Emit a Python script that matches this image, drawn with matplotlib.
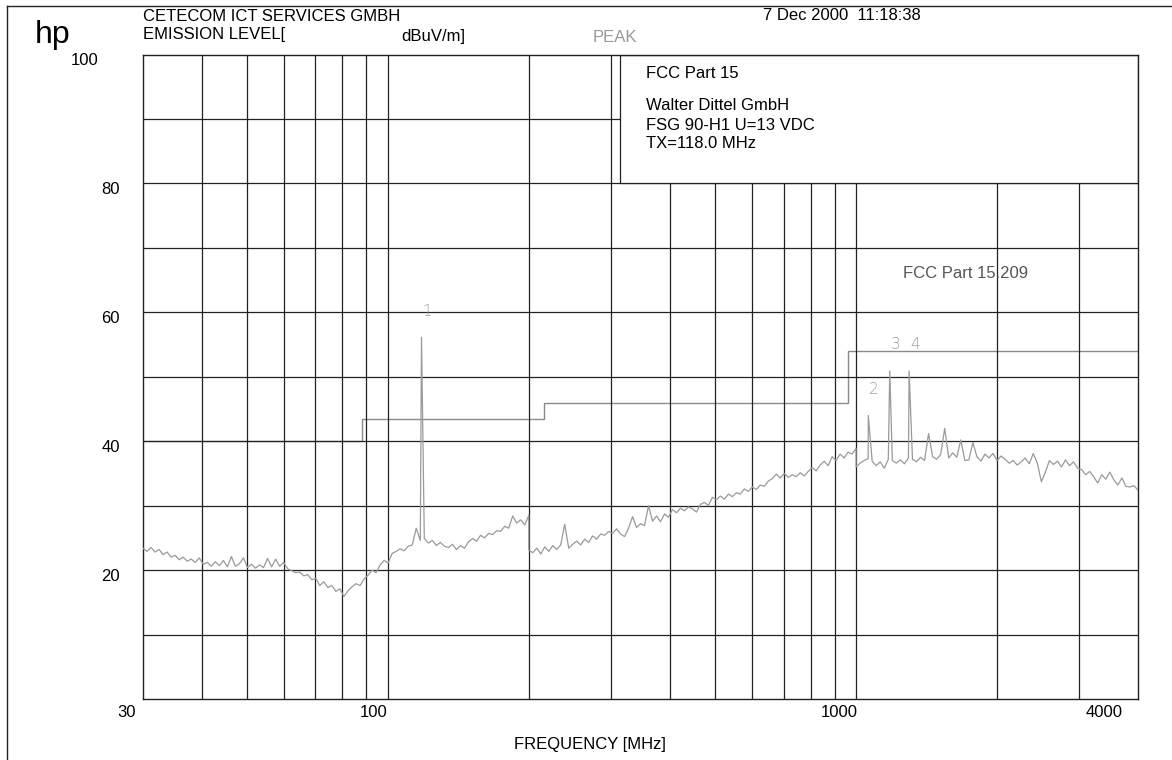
import numpy as np
import matplotlib
matplotlib.use("Agg")
import matplotlib.pyplot as plt
from matplotlib.patches import Rectangle

plt.rcParams['font.family'] = ['Liberation Sans', 'DejaVu Sans']

# %%
# Sweep 1: 30 - 200 MHz (dBuV/m)
level_30_200 = [
    23.4, 22.9, 23.5, 22.8, 23.2, 22.4, 22.8, 22.0, 22.3, 21.6,
    22.0, 21.4, 21.7, 21.2, 21.9, 20.9, 21.2, 20.6, 21.3, 20.7,
    21.5, 20.5, 22.1, 20.6, 21.0, 21.9, 20.4, 20.9, 20.3, 20.8,
    20.4, 21.8, 20.5, 21.7, 20.6, 21.2, 20.2, 19.9, 19.6, 19.7,
    19.1, 19.3, 18.5, 18.7, 17.6, 18.2, 17.3, 17.6, 16.7, 17.1,
    15.9, 16.8, 17.4, 17.9, 17.6, 18.6, 19.2, 20.0, 19.6, 20.8,
    21.5, 21.1, 22.6, 22.9, 23.3, 23.0, 23.7, 23.9, 26.5, 24.6,
    24.9, 24.2, 24.6, 23.8, 24.3, 23.7, 23.5, 24.0, 23.2, 23.8,
    23.4, 24.4, 24.9, 24.5, 25.4, 25.0, 25.7, 25.5, 26.1, 26.0,
    26.8, 26.5, 28.4, 27.3, 27.8, 27.0, 28.5,
]

# Sweep 2: 200 - 1000 MHz
level_200_1000 = [
    23.1, 22.7, 23.4, 22.5, 23.6, 22.9, 23.8, 23.2, 23.9, 27.1,
    23.4, 24.0, 24.5, 23.9, 24.8, 24.3, 25.3, 24.8, 25.6, 25.4,
    26.0, 25.7, 26.4, 25.6, 25.2, 26.5, 28.3, 26.6, 27.2, 26.9,
    30.0, 27.6, 28.4, 27.5, 28.7, 28.2, 29.4, 28.9, 29.6, 29.2,
    29.8, 29.5, 29.0, 30.2, 30.5, 30.0, 31.3, 30.9, 31.5, 31.0,
    31.8, 31.4, 32.0, 31.8, 32.6, 32.2, 32.9, 32.5, 33.2, 33.0,
    33.8, 34.2, 34.9, 34.3, 35.0, 34.4, 34.8, 34.5, 35.1, 34.6,
    35.3, 35.9, 35.4, 36.3, 36.9, 36.2, 37.6, 37.0, 38.0, 37.4,
    38.3, 38.0, 38.9,
]

# Sweep 3: 1000 - 4000 MHz
level_1000_4000 = [
    36.0, 36.6, 37.0, 37.3, 36.9, 36.2, 36.8, 35.8, 37.2, 37.0,
    36.6, 37.1, 36.5, 37.4, 37.2, 36.8, 37.5, 37.0, 41.2, 37.6,
    37.2, 37.9, 42.0, 37.4, 38.2, 37.5, 40.2, 37.0, 37.1, 39.8,
    37.6, 36.9, 38.0, 37.4, 38.1, 37.0, 37.7, 37.2, 36.6, 37.0,
    36.3, 36.8, 37.4, 36.5, 38.1, 36.6, 33.7, 35.2, 37.0, 36.4,
    36.9, 36.0, 37.1, 36.2, 36.8, 35.8, 35.6, 34.8, 35.3, 34.5,
    33.5, 34.8, 34.1, 35.2, 34.0, 33.2, 34.3, 33.0, 32.9, 33.1,
    32.4,
]

# Marker peaks (TX and harmonics)
marker_names = ["1", "2", "3", "4"]
marker_freq = [118.0, 1062.0, 1180.0, 1298.0]
marker_level = [56.1, 44.0, 50.9, 50.9]

# FCC Part 15.209 limit (3 m)
limit_freq = [30, 88, 88, 216, 216, 960, 960, 4000]
limit_level = [40.0, 40.0, 43.5, 43.5, 46.0, 46.0, 54.0, 54.0]

grid_freq = [40, 50, 60, 70, 80, 90, 100, 200, 300, 400, 500, 600,
             700, 800, 900, 1000, 2000, 3000]
grid_level = [10, 20, 30, 40, 50, 60, 70, 80, 90]

x_ticks = [30, 100, 1000, 4000]
y_ticks = [100, 80, 60, 40, 20]

# %%
f1 = np.geomspace(30, 200, len(level_30_200))
f2 = np.geomspace(200, 1000, len(level_200_1000))
f3 = np.geomspace(1000, 4000, len(level_1000_4000))

freq = np.concatenate([f1, f2, f3, marker_freq])
level = np.concatenate([level_30_200, level_200_1000, level_1000_4000, marker_level])
order = np.argsort(freq, kind="stable")
freq, level = freq[order], level[order]

W, H = 1172, 760
fig = plt.figure(figsize=(W / 100, H / 100), dpi=100)
ax = fig.add_axes([143 / W, 61 / H, 995 / W, 644.5 / H])
ax.set_xscale("log")
ax.set_xlim(30, 4000)
ax.set_ylim(0, 100)
ax.set_xticks([])
ax.set_yticks([])
ax.minorticks_off()
for s in ax.spines.values():
    s.set_linewidth(1.0)
    s.set_color("#222222")

gcol = "#222222"
for g in grid_freq:
    ax.axvline(g, color=gcol, lw=0.9, zorder=1)
for g in grid_level:
    ax.axhline(g, color=gcol, lw=0.9, zorder=1)

# header box
ax.add_patch(Rectangle((313, 80), 4000 - 313, 20, facecolor="white",
                       edgecolor=gcol, lw=0.9, zorder=2))
box_lines = [("FCC Part 15", 74), ("Walter Dittel GmbH", 106),
             ("FSG 90-H1 U=13 VDC", 126), ("TX=118.0 MHz", 143.5)]
for txt, yy in box_lines:
    fig.text(646 / W, 1 - yy / H, txt, fontsize=12, va="center", ha="left")

# limit line sits under the grid
ax.plot(limit_freq, limit_level, color="#8a8a8a", lw=1.0, zorder=0.5)
ax.plot(freq, level, color="#9a9a9a", lw=0.9, zorder=4)

for name, fq, lv in zip(marker_names, marker_freq, marker_level):
    ax.annotate(name, (fq, lv), xytext=(4.3, 18.7), textcoords="offset points",
                ha="center", va="center", fontsize=11, color="#a0a0a0",
                fontweight="light", family="DejaVu Sans")

ax.text(0.764, 0.66, "FCC Part 15.209", transform=ax.transAxes, fontsize=12,
        color="#555555", ha="left", va="center")

# axis labels
x_off = {30: -5.0, 100: 0.0, 1000: 1.4, 4000: -10.8}
for t in x_ticks:
    ax.annotate(str(t), (t, 0), xytext=(x_off[t], -9.7), textcoords="offset points",
                ha="right", va="center", fontsize=12, annotation_clip=False)
y_off = {100: -32.4, 80: -16.5, 60: -16.5, 40: -16.5, 20: -16.5}
for t in y_ticks:
    ax.annotate(str(t), (30, t), xytext=(y_off[t], -4.5), textcoords="offset points",
                ha="right", va="center", fontsize=12, annotation_clip=False)

# page header
fig.text(35 / W, 1 - 35 / H, "hp", fontsize=23, va="center", ha="left")
fig.text(143 / W, 1 - 16.5 / H, "CETECOM ICT SERVICES GMBH", fontsize=12, va="center")
fig.text(143 / W, 1 - 35 / H, "EMISSION LEVEL[", fontsize=12, va="center")
fig.text(401 / W, 1 - 36 / H, "dBuV/m]", fontsize=12, va="center")
fig.text(593 / W, 1 - 37.5 / H, "PEAK", fontsize=12, va="center", color="#999999")
fig.text(763 / W, 1 - 16 / H, "7 Dec 2000  11:18:38", fontsize=12, va="center")
fig.text(590 / W, 1 - 745 / H, "FREQUENCY [MHz]", fontsize=12, va="center", ha="center")

# plotter page edges
fig.add_artist(plt.Line2D([7 / W, 1], [1 - 6 / H, 1 - 6 / H], color="#222222", lw=1.0))
fig.add_artist(plt.Line2D([7 / W, 7 / W], [0, 1 - 6 / H], color="#222222", lw=1.0))

fig.savefig("out.png", dpi=100)
